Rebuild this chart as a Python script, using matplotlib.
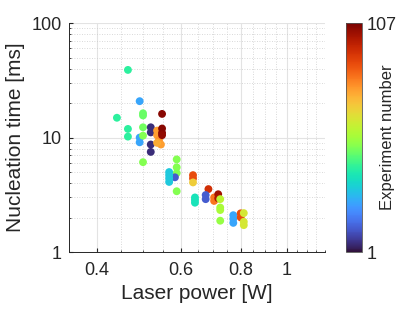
import numpy as np
import matplotlib
matplotlib.use("Agg")
import matplotlib.pyplot as plt
from matplotlib.ticker import FixedLocator, MultipleLocator, LogLocator, NullFormatter, FixedFormatter

plt.rcParams["font.family"] = ["Liberation Sans", "DejaVu Sans"]

# laser power [W], nucleation time [ms], experiment number
laser_power = [
    0.465, 0.492, 0.441, 0.500, 0.500, 0.548, 0.465, 0.465, 0.492, 0.492,
    0.500, 0.500, 0.519, 0.519, 0.519, 0.519,
    0.535, 0.535, 0.540, 0.545, 0.535, 0.548, 0.548, 0.548,
    0.500, 0.588, 0.588, 0.588, 0.588, 0.583,
    0.567, 0.567, 0.567, 0.567,
    0.636, 0.636, 0.636, 0.642, 0.642, 0.642,
    0.685, 0.676, 0.676, 0.704, 0.704, 0.718, 0.718,
    0.725, 0.725, 0.725, 0.725,
    0.772, 0.772, 0.772, 0.800, 0.800, 0.812, 0.812, 0.812,
]
nucleation_time = [
    39.0, 20.8, 14.9, 16.3, 15.6, 16.1, 11.9, 10.2, 10.0, 9.1,
    12.3, 10.4, 12.3, 11.1, 8.7, 7.5,
    11.5, 10.5, 9.5, 8.7, 9.0, 12.0, 11.0, 10.5,
    6.1, 6.45, 5.5, 4.9, 3.4, 4.5,
    5.0, 4.7, 4.4, 4.1,
    4.7, 4.4, 4.06, 3.0, 2.85, 2.7,
    3.55, 3.15, 2.9, 3.0, 2.8, 3.2, 2.95,
    2.9, 2.45, 2.33, 1.88,
    2.1, 1.95, 1.8, 2.18, 2.01, 2.19, 1.84, 1.72,
]
experiment = [
    40, 24, 40, 47, 47, 105, 40, 40, 24, 24,
    48, 50, 5, 5, 5, 5,
    76, 76, 78, 76, 74, 105, 105, 104,
    50, 50, 50, 50, 50, 12,
    30, 30, 30, 30,
    88, 88, 68, 36, 36, 36,
    94, 12, 12, 82, 82, 102, 100,
    58, 55, 55, 52,
    24, 24, 24, 88, 88, 62, 62, 62,
]

fig = plt.figure(figsize=(4.15, 3.12), dpi=100)
ax = fig.add_axes([0.166, 0.192, 0.617, 0.734])
cax = fig.add_axes([0.833, 0.192, 0.0386, 0.734])

sc = ax.scatter(laser_power, nucleation_time, c=experiment, cmap="turbo",
                vmin=1, vmax=107, s=32, edgecolors="none")

ax.set_xscale("log")
ax.set_yscale("log")
ax.set_xlim(0.35, 1.2)
ax.set_ylim(1, 100)

ax.xaxis.set_major_locator(FixedLocator([0.4, 0.6, 0.8, 1.0]))
ax.xaxis.set_major_formatter(FixedFormatter(["0.4", "0.6", "0.8", "1"]))
ax.xaxis.set_minor_locator(MultipleLocator(0.05))
ax.xaxis.set_minor_formatter(NullFormatter())
ax.yaxis.set_major_locator(FixedLocator([1, 10, 100]))
ax.yaxis.set_major_formatter(FixedFormatter(["1", "10", "100"]))
ax.yaxis.set_minor_locator(LogLocator(base=10, subs=np.arange(2, 10)))
ax.yaxis.set_minor_formatter(NullFormatter())

ax.grid(True, which="major", color="#e3e3e3", linewidth=0.8)
ax.grid(True, which="minor", color="#cccccc", linewidth=0.6, linestyle=(0, (1, 2)))
ax.set_axisbelow(True)

for side in ["top", "right"]:
    ax.spines[side].set_visible(False)
for side in ["left", "bottom"]:
    ax.spines[side].set_color("#262626")
    ax.spines[side].set_linewidth(0.7)
ax.tick_params(which="both", direction="in", colors="#262626", labelsize=13)
ax.tick_params(which="major", length=3)
ax.tick_params(which="minor", length=1.5)
ax.tick_params(axis="x", pad=7)
ax.tick_params(axis="y", pad=5)

ax.set_xlabel("Laser power [W]", fontsize=15, color="#262626", labelpad=4)
ax.set_ylabel("Nucleation time [ms]", fontsize=15, color="#262626", labelpad=5)

cb = fig.colorbar(sc, cax=cax)
cb.set_ticks([1, 107])
cb.ax.tick_params(labelsize=13, length=0, colors="#262626")
cb.outline.set_edgecolor("#555555")
cb.outline.set_linewidth(0.6)
cb.set_label("Experiment number", fontsize=12, color="#262626", labelpad=-12)

fig.savefig("out.png", dpi=100)
